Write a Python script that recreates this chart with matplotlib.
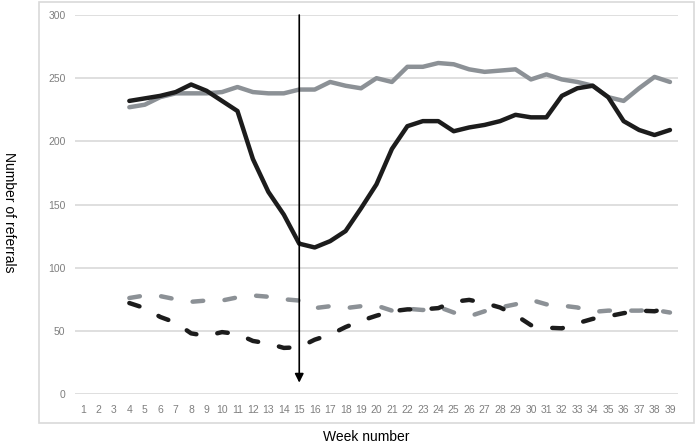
import matplotlib.pyplot as plt
from matplotlib.patches import Rectangle

# weekly referral counts (weeks 4..39)
weeks = list(range(1, 40))
data_weeks = list(range(4, 40))

solid_grey = [227, 229, 235, 238, 238, 238, 239, 243, 239, 238, 238, 241, 241, 247, 244, 242, 250, 247,
              259, 259, 262, 261, 257, 255, 256, 257, 249, 253, 249, 247, 244, 235, 232, 242, 251, 247]
solid_black = [232, 234, 236, 239, 245, 240, 232, 224, 186, 160, 142, 119, 116, 121, 129, 147, 166, 194,
               212, 216, 216, 208, 211, 213, 216, 221, 219, 219, 236, 242, 244, 235, 216, 209, 205, 209]
dashed_grey = [76, 78, 77.5, 75, 73, 74, 74, 76.5, 78, 77, 75, 74, 68, 69.5, 68, 69.5, 70, 66,
               67.5, 66.5, 69, 64.5, 61.5, 65.5, 68.5, 71, 74.5, 71, 70, 68.5, 65, 66, 66, 66, 66.5, 64.5]
dashed_black = [72, 68, 61, 56.5, 48, 46, 49, 47.5, 42, 40, 36.5, 37, 43, 47, 53, 58, 62, 65.5,
                67, 67, 68, 73, 74.5, 72, 68.5, 62.5, 54.5, 52.5, 52, 56, 59.5, 61.5, 64, 66, 65.5, 68.5]

y_ticks = [0, 50, 100, 150, 200, 250, 300]
marker_week = 15

plt.rcParams['font.family'] = ['Liberation Sans', 'DejaVu Sans']

fig = plt.figure(figsize=(6.95, 4.48), dpi=100)
ax = fig.add_axes([0.1083, 0.1205, 0.8668, 0.846])

grey = '#8c9196'
black = '#1c1c1c'
lw = 3.2

ax.plot(data_weeks, solid_grey, color=grey, lw=lw, solid_capstyle='round', solid_joinstyle='round', zorder=3)
ax.plot(data_weeks, dashed_grey, color=grey, lw=lw, dashes=(2.4, 4.8), dash_capstyle='round', zorder=3)
ax.plot(data_weeks, solid_black, color=black, lw=lw, solid_capstyle='round', solid_joinstyle='round', zorder=4)
ax.plot(data_weeks, dashed_black, color=black, lw=lw, dashes=(2.4, 4.8), dash_capstyle='round', zorder=4)

# vertical arrow at week 15
ax.annotate('', xy=(marker_week, 9), xytext=(marker_week, 300),
            arrowprops=dict(arrowstyle='-|>', color='black', lw=1.2, mutation_scale=13,
                            shrinkA=0, shrinkB=0), zorder=6)

ax.set_xlim(0.5, 39.5)
ax.set_ylim(0, 300)
ax.set_xticks(weeks)
ax.set_xticklabels([str(w) for w in weeks])
ax.set_yticks(y_ticks)
ax.grid(axis='y', color='#d9d9d9', lw=1.2, zorder=0)
ax.set_axisbelow(True)
for s in ax.spines.values():
    s.set_visible(False)
ax.tick_params(axis='both', length=0, labelsize=7.5, labelcolor='#7f7f7f')
ax.tick_params(axis='x', pad=8)
ax.tick_params(axis='y', pad=7)

# light border round the chart area
fig.patches.append(Rectangle((39 / 695, 1 - 423 / 448), (694 - 39) / 695, (423 - 2) / 448,
                             transform=fig.transFigure, fill=False, edgecolor='#d9d9d9', lw=1.2))

fig.text(366 / 695, 1 - 437 / 448, 'Week number', ha='center', va='center', fontsize=10)
fig.text(9 / 695, 1 - 212 / 448, 'Number of referrals', ha='center', va='center', fontsize=10, rotation=270)

plt.savefig('out.png', dpi=100)
